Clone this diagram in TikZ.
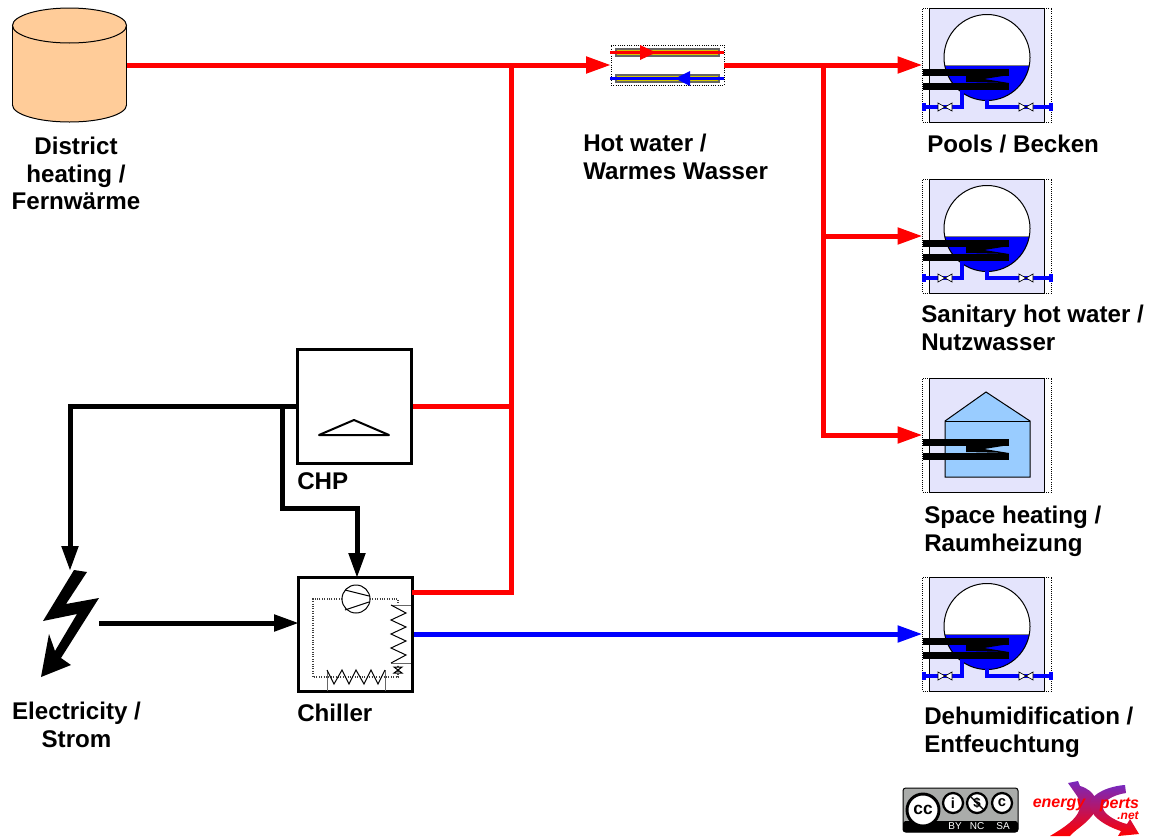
\documentclass[tikz,border=0pt]{standalone}
\usepackage{fontspec}
\setmainfont{Liberation Sans}
\usetikzlibrary{arrows.meta, positioning, shapes.geometric, calc}
\usepackage{xcolor}
\definecolor{flowred}{RGB}{255, 0, 0}
\definecolor{flowblue}{RGB}{0, 0, 255}
\definecolor{unitlilac}{RGB}{228, 228, 252}
\definecolor{houseblue}{RGB}{153, 204, 255}
\definecolor{drumpeach}{RGB}{255, 204, 153}
\definecolor{hxyellow}{RGB}{214, 200, 0}
\definecolor{ccgrey}{RGB}{170, 172, 170}
\definecolor{xpurple}{RGB}{120, 40, 190}
\tikzset{
  flow/.style={line width=3.75pt, -{Triangle[length=18.75pt, width=12pt]}},
  pipe/.style={line width=3.75pt},
  lbl/.style={font=\fontsize{18.1}{20.6}\selectfont\bfseries, inner sep=0pt, anchor=north west, align=left},
  lblc/.style={lbl, anchor=north, align=center},
  plantbox/.style={draw, line width=2.25pt, fill=white, minimum width=86pt, minimum height=85.5pt, inner sep=0pt},
  unitbox/.style={draw, densely dotted, line width=0.6pt, fill=white, minimum width=96.75pt, minimum height=85.5pt, inner sep=0pt, outer sep=0pt},
  hxbox/.style={draw, densely dotted, line width=0.7pt, fill=white, minimum width=84.75pt, minimum height=30pt, inner sep=0pt, outer sep=0pt},
  hxtube/.style={draw=black!60, line width=1pt, fill=hxyellow},
  thinline/.style={line width=0.75pt},
  coilline/.style={draw, line width=0.75pt, line join=miter},
  ductline/.style={densely dotted, black!75, line width=0.8pt},
  bluepipe/.style={flowblue, line width=2.4pt},
  valve/.style={draw=black, fill=white, line width=0.5pt},
  lilacbody/.pic={
        \draw[thinline, fill=unitlilac] (-57.5,-57) rectangle (57.5,57);
  },
  exchanger/.pic={
        \fill (-64,3.5) rectangle (22,10.5);
        \fill (-64,17.5) rectangle (22,24.5);
        \fill (22,10) -- (-21,11) -- (-21,17) -- (22,18) -- (-3,14) -- cycle;
  },
  tankunit/.pic={
        \pic {lilacbody};
        \fill[white] (0,-7.5) circle (43);
        \begin{scope}
          \clip (0,-7.5) circle (43);
          \fill[flowblue] (-50,0) rectangle (50,40);
          \draw[black!50, thinline] (-50,0) -- (50,0);
        \end{scope}
        \draw[thinline] (0,-7.5) circle (43);
        \draw[bluepipe] (-62,42) -- (-25,42) -- (-25,25);
        \draw[bluepipe] (0,35) -- (0,42) -- (63,42);
        \draw[bluepipe, line width=2.6pt] (-63,38) -- (-63,46);
        \draw[bluepipe, line width=2.6pt] (64,38) -- (64,46);
        \draw[valve] (-49,38) -- (-35,46) -- (-35,38) -- (-49,46) -- cycle;
        \draw[valve] (32,38) -- (46,46) -- (46,38) -- (32,46) -- cycle;
        \pic {exchanger};
  },
  houseunit/.pic={
        \pic {lilacbody};
        \draw[line width=0.75pt, fill=houseblue] (-42,-14) -- (-1,-43) -- (43,-14) -- (43,42) -- (-42,42) -- cycle;
        \draw[line width=0.75pt] (-42,-14) -- (43,-14);
        \pic {exchanger};
  },
}
\begin{document}
\begin{tikzpicture}[x=0.75pt, y=-0.75pt]
        \useasboundingbox (0,0) rectangle (1149,836);

        \node[minimum width=85.5pt, minimum height=85.5pt, inner sep=0pt] (district) at (69.5,65) {};
        \draw[line width=0.75pt, fill=drumpeach] (69.5,105) ellipse (57 and 17);
        \fill[drumpeach] (12.5,25) rectangle (126.5,105);
        \draw[line width=0.75pt] (12.5,25) -- (12.5,105);
        \draw[line width=0.75pt] (126.5,25) -- (126.5,105);
        \draw[line width=0.75pt, fill=drumpeach] (69.5,25.5) ellipse (57 and 17.5);

        \node[hxbox] (hotwater) at (667.5,65) {};
        \node[unitbox] (pools) at (987,65) {};
        \node[unitbox] (sanitary) at (987,236) {};
        \node[unitbox] (space) at (987,435) {};
        \node[unitbox] (dehumid) at (987,634) {};
        \node[plantbox] (chp) at (354.4,406.5) {};
        \node[plantbox] (chiller) at (355.5,634) {};

        \pic at (pools) {tankunit};
        \pic at (sanitary) {tankunit};
        \pic at (space) {houseunit};
        \pic at (dehumid) {tankunit};

        \draw[hxtube] (616,49) rectangle (719,56);
        \draw[hxtube] (616,75) rectangle (719,82);
        \draw[flowred, line width=1.9pt] (610,52.5) -- (724,52.5);
        \draw[flowblue, line width=1.9pt] (610,78.5) -- (724,78.5);
        \fill[flowred] (640,45) -- (656,52.5) -- (640,60) -- cycle;
        \fill[flowblue] (690,71) -- (675,78.5) -- (690,86) -- cycle;

        \coordinate (hotjoin) at (511,65);
        \coordinate (hotsplit) at (823,65);
        \coordinate (chilleroutlet) at (412,592);
        \coordinate (chillerfeed) at (357,578);
        \coordinate (chillerline) at (299,623);
        \coordinate (boltout) at (99,623);
        \coordinate (boltin) at (70,571);
        \coordinate (busdrop) at (282,406.5);

        \draw[pipe, flowred] (chp.east) -- (chp.east -| hotjoin);
        \draw[pipe, flowred] (hotjoin) -- (hotjoin |- chilleroutlet) -- (chilleroutlet);
        \draw[flow, flowred] (district.east |- hotjoin) -- (hotwater.west);
        \draw[flow, flowred] (hotwater.east) -- (pools.west);
        \draw[flow, flowred] (hotsplit) |- (sanitary.west);
        \draw[flow, flowred] (hotsplit) |- (space.west);
        \draw[flow, flowblue] (chiller.east) -- (dehumid.west);
        \draw[flow, black] (chp.west) -| (boltin);
        \draw[flow, black] (busdrop) -- (282,508) -| (chillerfeed);
        \draw[flow, black] (boltout) -- (chillerline);

        \fill (74,570) -- (87,572) -- (66,604) -- (99,598) -- (61,658) -- (71,665) -- (41,677) -- (49,634) -- (55,651) -- (77,614) -- (43,621) -- cycle;

        \draw[thinline, fill=white] (356,599) circle (14);
        \draw[thinline] (345,590) -- (369,596);
        \draw[thinline] (345,610) -- (369,602);
        \draw[ductline] (342,599) -- (313,599) -- (313,677) -- (398,677) -- (398,665);
        \draw[ductline] (370,599) -- (398,599) -- (398,606);
        \draw[black!60, thinline] (391,605) -- (411,605);
        \draw[black!60, thinline] (391,663) -- (411,663);
        \draw[coilline] (391,605) -- (406,613) -- (391,620) -- (406,627) -- (391,634) -- (406,641) -- (391,648) -- (406,655) -- (391,663);
        \draw[thinline] (394,667) -- (402,667) -- (394,673) -- (402,673) -- cycle;
        \draw[black!60, thinline] (327,670) -- (327,691);
        \draw[black!60, thinline] (385,670) -- (385,691);
        \draw[coilline] (327,670) -- (334,684) -- (342,670) -- (349,684) -- (356,670) -- (364,684) -- (371,670) -- (378,684) -- (385,670);

        \draw[line width=1.5pt, line join=round] (319,435) -- (354,420) -- (389,435) -- cycle;

        \node[lblc] (districtlabel) at (76,137) {District\\heating /\\Fernwärme};
        \node[lbl] (hotwaterlabel) at (583,134) {Hot water /\\Warmes Wasser};
        \node[lbl] (poolslabel) at (927,135) {Pools / Becken};
        \node[lbl] (sanitarylabel) at (921,305) {Sanitary hot water /\\Nutzwasser};
        \node[lbl] (spacelabel) at (924,506) {Space heating /\\Raumheizung};
        \node[lbl] (dehumidlabel) at (924,707) {Dehumidification /\\Entfeuchtung};
        \node[lbl] (chplabel) at (297,472) {CHP};
        \node[lbl] (chillerlabel) at (297,704) {Chiller};
        \node[lblc] (electricitylabel) at (76.5,702) {Electricity /\\Strom};

        \draw[black, line width=0.75pt, fill=ccgrey, rounded corners=2pt] (903,788) rectangle (1018,832);
        \fill[black, rounded corners=2pt] (903,821) rectangle (1018,832);
        \draw[line width=2.2pt, fill=white] (923,810) circle (16);
        \node[font=\fontsize{13}{13}\selectfont\bfseries, inner sep=0pt] (cclogo) at (923,809.5) {cc};
        \draw[line width=1.7pt, fill=white] (953,803) circle (10);
        \node[font=\fontsize{11}{11}\selectfont\bfseries, inner sep=0pt] (bylogo) at (953,803) {i};
        \draw[line width=1.7pt, fill=white] (977,803) circle (10);
        \node[font=\fontsize{10}{10}\selectfont\bfseries, inner sep=0pt] (nclogo) at (977,803) {\$};
        \draw[line width=1pt] (970,796) -- (984,810);
        \draw[line width=1.7pt, fill=white] (1002,803) circle (10);
        \node[font=\fontsize{11}{11}\selectfont\bfseries, inner sep=0pt] (salogo) at (1002,803) {c};
        \node[font=\fontsize{7.5}{7.5}\selectfont, text=white, inner sep=0pt] (bytext) at (955,826.5) {BY};
        \node[font=\fontsize{7.5}{7.5}\selectfont, text=white, inner sep=0pt] (nctext) at (977,826.5) {NC};
        \node[font=\fontsize{7.5}{7.5}\selectfont, text=white, inner sep=0pt] (satext) at (1003,826.5) {SA};

        \path[top color=xpurple, bottom color=flowred] (1068,783) -- (1078,781) -- (1080,786) .. controls (1095,790) and (1103,805) .. (1090,818) .. controls (1083,826) and (1075,830) .. (1070,836) -- (1050,836) .. controls (1068,825) and (1090,812) .. (1075,793) -- cycle;
        \path[top color=xpurple, bottom color=flowred] (1125,785) -- (1126,793) .. controls (1112,795) and (1102,802) .. (1103,808) .. controls (1104,815) and (1118,822) .. (1127,824) -- (1130,819) -- (1139,834) -- (1118,836) -- (1121,831) .. controls (1105,826) and (1088,815) .. (1090,803) .. controls (1092,793) and (1110,786) .. (1125,785) -- cycle;
        \node[font=\fontsize{12}{12}\selectfont\bfseries\itshape, text=flowred, inner sep=0pt] (energytext) at (1059,804.5) {energy};
        \node[font=\fontsize{12}{12}\selectfont\bfseries\itshape, text=flowred, inner sep=0pt] (pertstext) at (1119.5,804.5) {perts};
        \node[font=\fontsize{9}{9}\selectfont\bfseries\itshape, text=flowred, inner sep=0pt] (nettext) at (1128,816) {.net};
      \end{tikzpicture}
\end{document}
